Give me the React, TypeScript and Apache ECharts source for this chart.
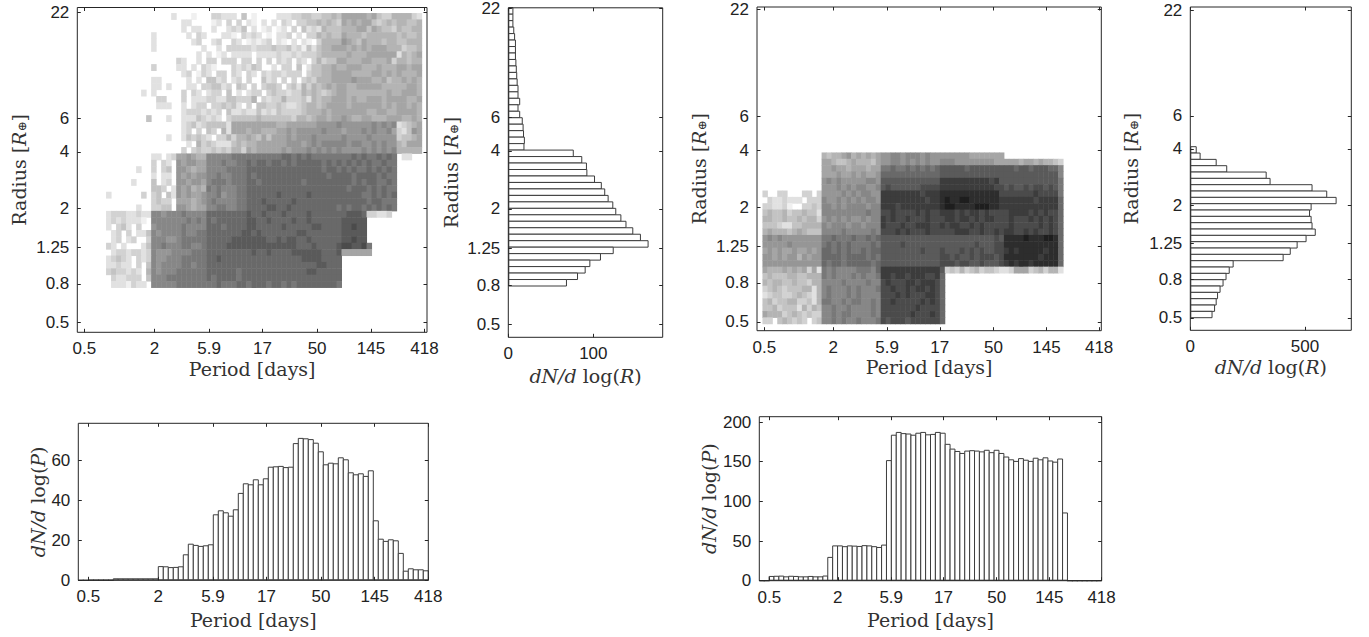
import React, { useEffect, useRef } from "react";
import * as echarts from "echarts";

const PERIOD_TICKS = [0.5, 2, 5.9, 17, 50, 145, 418];
const RADIUS_TICKS = [0.5, 0.8, 1.25, 2, 4, 6, 22];

// Grey level per cell (0 blank, f darkest), top row first, left column first.
const HEAT_LEFT_ROWS = [
  "000000000 00002000100 03322204010000 2223344334454 6666656433555532",
  "000000000 00000022000 01203030210202 0320334454543 6565664345455445",
  "000000000 00000020220 02002324020120 1203042325444 5556646544354455",
  "000000000 20000002032 00022103232010 2230203354544 6555455555545445",
  "000000000 20000000230 02300320121230 2102021035555 7654655545544555",
  "000000000 20000000002 00203333323334 3342314245566 6565656665553445",
  "000000000 00000000020 20120222202222 3223233345555 5655566666625456",
  "000000000 00000320020 33033303303030 3230320353446 6555665556355455",
  "000000000 30000220203 21000323243002 0330402445565 5666555655566566",
  "000000000 00000023013 20330320320323 3233303445566 6655556656565556",
  "000000000 22000002020 44230230300423 0303034355566 6676665564556565",
  "000000000 22020002203 34423043030344 3034253545656 6556666655555665",
  "000000020 20000030320 23304020233034 3323354543456 6555555556556665",
  "000000000 03300030222 33224433350323 3533342545566 6565566656666556",
  "000000000 02220020233 03343420304433 4322345545666 6566666656566565",
  "000000000 00000023332 32304223224232 4333345556566 6666655665566665",
  "000000004 00020022243 23203444445444 4443554566566 7655665556665565",
  "000000000 00000023423 44442666666666 5566666677778 7777778787823456",
  "000000000 00000023030 43052666566555 6676777778777 6777878778632476",
  "000000000 00020024343 20335355654646 6676777877777 8777787777734456",
  "000000000 00000002053 43222454556666 6677767878888 8788778787754666",
  "000000000 00000030343 34343553656666 6767778787878 7777878787855555",
  "000000000 22023667655 88888999999999 9aa9a9a999999 99a9a99a9a902200",
  "000000000 30320767766 88898899a9aa9a a9a9aaaaa9a9a 9a9a9a99a9900000",
  "000000200 30340776566 88889999aaaaaa aaaaaaaaa9aa9 a9a99a9a9a900000",
  "000000000 20220767677 88988999a9aaaa aaaaaaaaaa9aa aa9aaaa9a9900000",
  "000002000 40230776776 89998999aa9aaa aaaaa9aaaaaaa aa9a9aa99a900000",
  "000000000 44302767565 98988899aaaaaa aaaaaaaaaaaaa a9aaa9a9a9900000",
  "200000030 34042767667 88978899aaaaaa baaaaabaaaaaa aaaa99a9a9a00000",
  "000000000 34330666567 89888899aaabaa aaabaaaaaaaaa aaaaa9aa99900000",
  "000000200 33440776566 88998899aaaabb aabaaaaaaaaa9 a9aa9a9a9a900000",
  "233322322 88788898888 aaaaaaaabaabaa abaaaabaaaaaa abbba33223000000",
  "232322210 88888889898 a9aaaaaabbaaba aaabaabaaaaaa bbbbb00000000000",
  "203420300 78888898888 aaa9aaaabbaaaa abaaaaabbaaaa bbcbb00000000000",
  "023030224 87888898899 aaaaaaabbabaaa aaaabbaaaaaaa bbbbb00000000000",
  "023023003 88877899999 aaaaabbbbbbbaa babbaabaaaaaa bbcbb00000000000",
  "320200024 88988899889 aaaabbbbbbbbbb bbbbaaabaaaab ccbbc90000000000",
  "023323323 87778888999 aaaaaaaaabaaba aaabbbbbbaaab 6666660000000000",
  "234320323 87788899999 aabaaaaaaaaaaa aaaaabbbbaaaa 0000000000000000",
  "223220304 87888899899 aaaaaaaaaaaaaa aaaaaaaabbaaa 0000000000000000",
  "343323205 87888999999 aaaaaa9aaaaaaa aaaaaabbaaaaa 0000000000000000",
  "032233304 88899999999 a9aaaa9aaaaaaa aaaaaaaaaaaaa 0000000000000000",
  "022213220 88888999999 99a999aa9aaa9a a9a9aaaaaaaa9 0000000000000000",
];

const HEAT_RIGHT_ROWS = [
  "000000000000 545567565656 778878887877 777777666666 6000000000000",
  "000000000000 665445655546 778878787877 888777777776 6666566565543",
  "000000000000 667665666566 99a99a9a9a9a bbbbbabbbbbb bbbabbabbbaa8",
  "000000000000 666766767667 aaaaaaaaaaaa bbbbbbbbbbbb bbbbbbbbbbbb8",
  "000000000000 787877777887 bbbbbbbbbbbb ddddddddddcd bbbbbbbbbbbb9",
  "000000000000 777878788778 bcbbbbbbcccc dddddddddddc cbcbbcbccbcb9",
  "300330003303 777787878877 ddddddddcddd eeeeeeeeeeee cccccccdcccc9",
  "032232220333 877878787887 dddddddddcdd efeeffeeeeee dddddddcdddda",
  "332231003343 887878888788 dddcdddddddd effeeeefffee dddddddddddda",
  "454453445442 888888888988 ccdccccdcdcc dddcdcddcdcc ccddddcdcdcca",
  "554454454553 787878778788 dcdccdcccdcc cddcddcdcddc ccdcccdcdcdca",
  "444322445555 878887887888 dcccdccdddcc dcddccdcdccc ccdcccccdcdca",
  "565554565444 888898888898 cccdcdcccdcc cccdddccdccd cddccdcdccdca",
  "787877777777 99a999a99a9a bbbbbbbbbbbb bbbbbbbbbbbc beeeefeeeffea",
  "777778777777 9a9a9a9999a9 bbbbcbbbbbbb bbbbbbbcbbbc ceeeeeeeeeeea",
  "676766766767 aa9a9a99a9aa bbbbbbbbcbbb cbbbcbcbcbbc cdedeeeeedeea",
  "776767757677 aaaa9aaaa9a9 bbbbbbbbbbbb ccbcbbcbcccb ceeeeeeedeeea",
  "777777777777 a9aa9aaaaa9a bbbbbbbbbbbb cccbccbbcbbb cdedeedeeeeea",
  "655565656362 98988889998a dddddddddddd b34353453443 2236663453552",
  "454445544555 989888989889 ddcddcdddccd a00000000000 0000000000000",
  "545544544355 888898888988 cdcccddcdddc a00000000000 0000000000000",
  "345434445525 898889898889 ccdccdcddcdc a00000000000 0000000000000",
  "234433454325 898889898888 cccdcdcccddc a00000000000 0000000000000",
  "453445533425 998898998898 ccdcccccdcdc a00000000000 0000000000000",
  "445344425354 889889888898 cccccccdcccc a00000000000 0000000000000",
  "655534543433 889899888898 ccccccdcccdc a00000000000 0000000000000",
  "330454343034 889898898889 cbcccbcccccc a00000000000 0000000000000",
];

// dN/dlog(R), top bar first
const RADIUS_HIST_LEFT = [6, 6, 6, 7, 8, 9, 9, 9, 9.5, 10, 10.5, 11, 12, 12, 14, 12, 14, 17, 18, 18.5, 19.5, 19,
  77, 87, 92.5, 93, 102, 110, 114, 118, 123.5, 127, 133, 139, 147, 156, 165, 124, 109, 96.5, 91, 82, 69];
const RADIUS_HIST_RIGHT = [28, 45, 115, 161, 333, 350, 533, 597, 638, 529, 522, 529, 533, 547, 507, 468, 438, 407,
  189, 172, 158, 145, 132, 121, 115, 108, 97];
// dN/dlog(P), left bar first
const PERIOD_HIST_LEFT = [0, 0, 0.2, 0.2, 0.2, 0.2, 0.2, 1, 1, 1, 1, 1, 1, 1, 1, 1, 7.1, 7, 6.6, 6.7, 7, 13, 18.3, 17.7, 17.2,
  17.5, 18, 33, 35, 34, 32.3, 35.5, 43.7, 48.5, 48, 50.5, 48, 51, 56.8, 57, 57.2, 56.6, 56.8, 68.6, 71.2, 71, 70.6, 68.8,
  64.5, 58, 58.8, 58.5, 61.5, 60.5, 54, 53, 53.5, 52.2, 55, 30, 20.8, 19.7, 20.5, 20, 13.7, 4.8, 6, 5.5, 5.5, 5];
const PERIOD_HIST_RIGHT = [0, 0, 6, 6.2, 6.4, 5.5, 6.2, 6, 5.5, 5.5, 6, 5.5, 5.5, 6.5, 30, 44.5, 44.5, 43.5, 44.5, 44.2, 43.8,
  44.8, 44.5, 43.5, 42.5, 45.5, 152, 184, 187.5, 186, 185.5, 184, 186.5, 187.5, 184.5, 185, 187.5, 186.5, 172.5, 166.5,
  163.5, 161, 164, 164.5, 164, 163, 165, 162, 165, 161, 156.5, 153, 151, 154.5, 152.5, 151, 155, 153, 155.5, 151.5, 150,
  154, 86, 0, 0, 0, 0, 0, 0, 0];

const INK = "#262626";
const SANS = "Liberation Sans";
const SERIF = "DejaVu Serif";
const nameRich = {
  r: { fontFamily: SERIF, fontSize: 19, color: "#333" },
  i: { fontFamily: SERIF, fontSize: 19, fontStyle: "italic", color: "#333" },
  s: { fontFamily: SERIF, fontSize: 12, color: "#333", padding: [7, 0, 0, 0] },
};
const PERIOD_NAME = "{r|Period [days]}";
const RADIUS_NAME = "{r|Radius [}{i|R}{s|⊕}{r|]}";
const dNd = (v: string) => `{i|dN/d}{r| log(}{i|${v}}{r|)}`;

type Rect = { l: number; t: number; r: number; b: number };

function buildOption() {
  const grid: any[] = [];
  const xAxis: any[] = [];
  const yAxis: any[] = [];
  const series: any[] = [];

  const rectOf = (q: Rect, extra: any = {}) => ({ left: q.l, top: q.t, width: q.r - q.l, height: q.b - q.t, ...extra });
  const hidden = { show: false };

  const addHeat = (rows: string[], q: Rect) => {
    const g = grid.push(rectOf(q)) - 1;
    const clean = rows.map((s) => s.replace(/ /g, ""));
    const cols = Math.max(...clean.map((s) => s.length));
    const xi = xAxis.push({ ...hidden, type: "category", gridIndex: g, data: Array.from({ length: cols }, (_, i) => i) }) - 1;
    const yi = yAxis.push({ ...hidden, type: "category", gridIndex: g, inverse: true, data: clean.map((_, i) => i) }) - 1;
    const data: number[][] = [];
    clean.forEach((s, y) => {
      for (let x = 0; x < s.length; x++) {
        const v = parseInt(s[x], 16);
        if (v > 0) data.push([x, y, v]);
      }
    });
    series.push({ type: "heatmap", xAxisIndex: xi, yAxisIndex: yi, data, itemStyle: { borderWidth: 0 }, silent: true });
  };

  const addBars = (values: number[], q: Rect, max: number, horizontal: boolean) => {
    const g = grid.push(rectOf(q)) - 1;
    const cat = { ...hidden, type: "category", gridIndex: g, data: values.map((_, i) => i), inverse: horizontal };
    const val = { ...hidden, type: "value", gridIndex: g, min: 0, max };
    const xi = xAxis.push(horizontal ? val : cat) - 1;
    const yi = yAxis.push(horizontal ? cat : val) - 1;
    const band = (horizontal ? q.b - q.t : q.r - q.l) / values.length;
    series.push({
      type: "bar",
      xAxisIndex: xi,
      yAxisIndex: yi,
      data: values,
      // ECharts insets a bordered bar by half its border on each side
      barWidth: band + 1,
      silent: true,
      itemStyle: { color: "#ffffff", borderColor: "#3c3c3c", borderWidth: 1 },
    });
  };

  const addFrame = (opt: {
    q: Rect;
    x: [number, number];
    y: [number, number];
    xTicks: number[];
    yTicks: number[];
    log: [boolean, boolean];
    xName: string;
    yName: string;
    xNameGap: number;
    yNameGap: number;
  }) => {
    const g = grid.push(rectOf(opt.q, { show: true, borderColor: INK, borderWidth: 1, backgroundColor: "transparent", z: 5 })) - 1;
    const make = (vals: number[], ext: [number, number], isLog: boolean, position: string, withLabel: boolean, name: string, gap: number) => {
      const custom = isLog ? vals.map(Math.log10) : vals;
      return {
        type: "value",
        gridIndex: g,
        position,
        min: ext[0],
        max: ext[1],
        z: 6,
        splitLine: { show: false },
        axisLine: { show: false, onZero: false },
        axisTick: { show: true, inside: true, length: 3.5, customValues: custom, lineStyle: { color: INK, width: 1 } },
        axisLabel: {
          show: withLabel,
          customValues: custom,
          margin: 8,
          fontFamily: SANS,
          fontSize: 17,
          color: "#222",
          hideOverlap: false,
          showMinLabel: true,
          showMaxLabel: true,
          formatter: (v: number) => {
            let best = vals[0];
            custom.forEach((c, i) => {
              if (Math.abs(c - v) < Math.abs((isLog ? Math.log10(best) : best) - v)) best = vals[i];
            });
            return String(best);
          },
        },
        name: withLabel ? name : "",
        nameLocation: "middle",
        nameGap: gap,
        nameMoveOverlap: false,
        nameTextStyle: { rich: nameRich },
      };
    };
    xAxis.push(make(opt.xTicks, opt.x, opt.log[0], "bottom", true, opt.xName, opt.xNameGap));
    xAxis.push(make(opt.xTicks, opt.x, opt.log[0], "top", false, "", 0));
    yAxis.push(make(opt.yTicks, opt.y, opt.log[1], "left", true, opt.yName, opt.yNameGap));
    yAxis.push(make(opt.yTicks, opt.y, opt.log[1], "right", false, "", 0));
  };

  addHeat(HEAT_LEFT_ROWS, { l: 106.3, t: 13.3, r: 421.9, b: 287.7 });
  addHeat(HEAT_RIGHT_ROWS, { l: 762.7, t: 152.7, r: 1063.3, b: 324 });
  addBars(RADIUS_HIST_LEFT, { l: 508.3, t: 7.7, r: 662.7, b: 286 }, 181.6, true);
  addBars(RADIUS_HIST_RIGHT, { l: 1190.3, t: 146.7, r: 1351.3, b: 317.7 }, 702, true);
  addBars(PERIOD_HIST_LEFT, { l: 78.3, t: 423.3, r: 428.3, b: 580.3 }, 78.5, false);
  addBars(PERIOD_HIST_RIGHT, { l: 759.3, t: 416.7, r: 1101.7, b: 580.7 }, 206.7, false);

  addFrame({ q: { l: 77.3, t: 7.5, r: 427, b: 332.3 }, x: [-0.361, 2.643], y: [-0.354, 1.367], xTicks: PERIOD_TICKS, yTicks: RADIUS_TICKS, log: [true, true], xName: PERIOD_NAME, yName: RADIUS_NAME, xNameGap: 27, yNameGap: 49 });
  addFrame({ q: { l: 508.3, t: 7, r: 662.7, b: 337.3 }, x: [0, 181.6], y: [-0.367, 1.346], xTicks: [0, 100], yTicks: RADIUS_TICKS, log: [false, true], xName: dNd("R"), yName: RADIUS_NAME, xNameGap: 29, yNameGap: 48 });
  addFrame({ q: { l: 757, t: 7, r: 1101.3, b: 330.7 }, x: [-0.365, 2.64], y: [-0.348, 1.355], xTicks: PERIOD_TICKS, yTicks: RADIUS_TICKS, log: [true, true], xName: PERIOD_NAME, yName: RADIUS_NAME, xNameGap: 27, yNameGap: 49 });
  addFrame({ q: { l: 1190.3, t: 7, r: 1351.3, b: 330.3 }, x: [0, 702], y: [-0.368, 1.36], xTicks: [0, 500], yTicks: RADIUS_TICKS, log: [false, true], xName: dNd("R"), yName: RADIUS_NAME, xNameGap: 27, yNameGap: 50 });
  addFrame({ q: { l: 78.3, t: 423.3, r: 428.3, b: 580.3 }, x: [-0.387, 2.622], y: [0, 78.5], xTicks: PERIOD_TICKS, yTicks: [0, 20, 40, 60], log: [true, false], xName: PERIOD_NAME, yName: dNd("P"), xNameGap: 30, yNameGap: 31 });
  addFrame({ q: { l: 759.3, t: 416.7, r: 1101.7, b: 580.7 }, x: [-0.389, 2.622], y: [0, 206.7], xTicks: PERIOD_TICKS, yTicks: [0, 50, 100, 150, 200], log: [true, false], xName: PERIOD_NAME, yName: dNd("P"), xNameGap: 30, yNameGap: 41 });

  return {
    animation: false,
    backgroundColor: "#ffffff",
    grid,
    xAxis,
    yAxis,
    series,
    visualMap: [{
      type: "continuous",
      show: false,
      min: 0,
      max: 15,
      dimension: 2,
      seriesIndex: [0, 1],
      inRange: { color: ["#ffffff", "#1e1e1e"] },
    }],
  };
}

export default function App() {
  const ref = useRef<HTMLDivElement>(null);
  useEffect(() => {
    const chart = echarts.init(ref.current!, undefined, { renderer: "svg" });
    chart.setOption(buildOption() as any);
    return () => chart.dispose();
  }, []);
  return <div ref={ref} style={{ position: "absolute", left: 0, top: 0, width: 1369, height: 637 }} />;
}
